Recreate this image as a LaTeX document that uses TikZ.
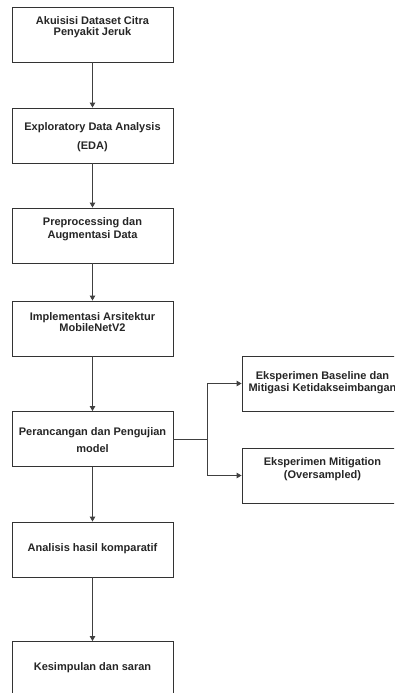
\documentclass[tikz,border=0pt]{standalone}
\usepackage{fontspec}
\setmainfont{Liberation Sans}
\usetikzlibrary{arrows.meta}
\begin{document}
\begin{tikzpicture}[x=1pt,y=-1pt,
  box/.style={draw=black!80,line width=0.9pt,minimum width=161pt,minimum height=55pt,inner sep=0pt,fill=white},
  txt/.style={align=center,font=\bfseries\fontsize{11}{#1}\selectfont,text=black!85,inner sep=0pt},
  conn/.style={draw=black!75,line width=0.9pt,-{Triangle[width=5.5pt,length=5pt]}},
  plain/.style={draw=black!75,line width=0.9pt}]
\useasboundingbox (0,0) rectangle (394,693);
\fill[white] (0,0) rectangle (394,693);
\clip (0,0) rectangle (394,693);
% boxes (centres)
\node[box] (b1) at (92.5,34.5) {};
\node[box] (b2) at (92.5,135.5) {};
\node[box] (b3) at (92.5,235.5) {};
\node[box] (b4) at (92.5,328.5) {};
\node[box] (b5) at (92.5,439) {};
\node[box] (b6) at (92.5,549.5) {};
\node[box] (b7) at (92.5,669) {};
\node[box] (ba) at (322.5,383.5) {};
\node[box] (bb) at (322.5,475.5) {};
% texts
\node[txt=11] (t1) at (92.5,27.5) {Akuisisi Dataset Citra\\Penyakit Jeruk};
\node[txt=19] (t2) at (92.5,137.5) {Exploratory Data Analysis\\(EDA)};
\node[txt=13] (t3) at (92.5,229.5) {Preprocessing dan\\Augmentasi Data};
\node[txt=11] (t4) at (92.5,322.5) {Implementasi Arsitektur\\MobileNetV2};
\node[txt=17] (t5) at (92.5,440.5) {Perancangan dan Pengujian\\model};
\node[txt=13] (t6) at (92.5,549) {Analisis hasil komparatif};
\node[txt=13] (t7) at (92.5,668) {Kesimpulan dan saran};
\node[txt=12] (ta) at (322.5,383) {Eksperimen Baseline dan\\Mitigasi Ketidakseimbangan};
\node[txt=13] (tb) at (322.5,469.5) {Eksperimen Mitigation\\(Oversampled)};
% connectors
\draw[conn] (b1.south) -- (b2.north);
\draw[conn] (b2.south) -- (b3.north);
\draw[conn] (b3.south) -- (b4.north);
\draw[conn] (b4.south) -- (b5.north);
\draw[conn] (b5.south) -- (b6.north);
\draw[conn] (b6.south) -- (b7.north);
\coordinate (split) at (207.5,439);
\draw[plain] (b5.east) -- (split);
\draw[conn] (split) |- (ba.west);
\draw[conn] (split) |- (bb.west);
\end{tikzpicture}
\end{document}
